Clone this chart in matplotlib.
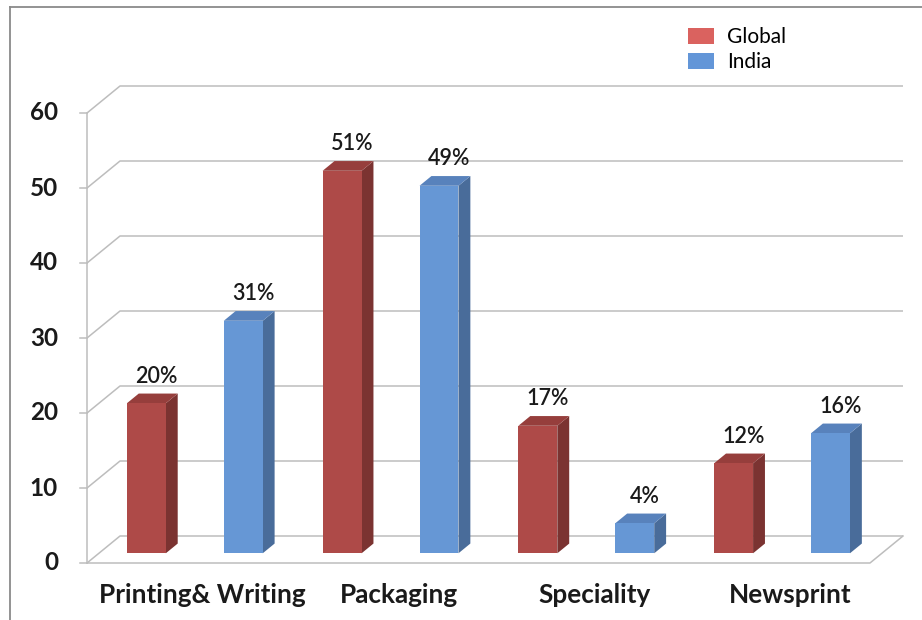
import matplotlib
matplotlib.use("Agg")
import matplotlib.pyplot as plt
from matplotlib.patches import Polygon, Patch
from matplotlib.lines import Line2D

# ---------------- data ----------------
categories = ["Printing& Writing", "Packaging", "Speciality", "Newsprint"]
series_names = ["Global", "India"]
global_vals = [20, 51, 17, 12]
india_vals = [31, 49, 4, 16]
value_labels_global = ["20%", "51%", "17%", "12%"]
value_labels_india = ["31%", "49%", "4%", "16%"]
yticks = [0, 10, 20, 30, 40, 50, 60]

# ---------------- style ----------------
FONT = ["Lato", "DejaVu Sans"]
plt.rcParams["font.family"] = FONT

front_cols = ["#AE4A48", "#6697D5"]
side_cols = ["#7B3331", "#496C9A"]
top_cols = ["#963E3C", "#5882BC"]
legend_cols = ["#DA625F", "#6396D8"]
grid_col = "#BDBDBD"
text_col = "#1a1a1a"

W, H = 922, 620
fig = plt.figure(figsize=(W / 100, H / 100), dpi=100)

# axes: x in category units (0..4 + depth), y in value units (0..60 + depth)
n = len(categories)
ymax = yticks[-1]
DX = 0.1686          # depth offset of back wall, in category units
DY = 3.6             # depth offset of back wall, in value units
ax = fig.add_axes([87 / W, 57 / H, 816 / W, 477 / H])
ax.set_xlim(0, n + DX)
ax.set_ylim(0, ymax + DY)
ax.axis("off")

lw = 1.1
# back wall gridlines + left wall diagonals
for t in yticks:
    ax.plot([0, DX, n + DX], [t, t + DY, t + DY], color=grid_col, lw=lw,
            clip_on=False, zorder=1, solid_capstyle="butt")
    # tick marks
    ax.plot([-0.036, 0], [t, t], color=grid_col, lw=lw, clip_on=False, zorder=1)
    ax.annotate(str(t), xy=(0, t), xytext=(-29, 0), textcoords="offset pixels",
                ha="right", va="center", fontsize=17.5, fontweight="bold",
                color=text_col, annotation_clip=False)
# left wall front edge
ax.plot([0, 0], [0, ymax], color=grid_col, lw=lw, clip_on=False, zorder=1)
# floor
ax.plot([0, n, n + DX], [0, 0, DY], color=grid_col, lw=lw, clip_on=False, zorder=1)

# bars
f1, dd = 0.36, 0.36
offsets = [0.143, 0.638]
bw = 0.199
for s, (vals, labs) in enumerate([(global_vals, value_labels_global),
                                  (india_vals, value_labels_india)]):
    for i, v in enumerate(vals):
        x0 = i + offsets[s] + f1 * DX
        y0 = f1 * DY
        ddx, ddy = dd * DX, dd * DY
        front = Polygon([(x0, y0), (x0 + bw, y0), (x0 + bw, y0 + v), (x0, y0 + v)],
                        closed=True, facecolor=front_cols[s], edgecolor="none", zorder=3)
        side = Polygon([(x0 + bw, y0), (x0 + bw + ddx, y0 + ddy),
                        (x0 + bw + ddx, y0 + v + ddy), (x0 + bw, y0 + v)],
                       closed=True, facecolor=side_cols[s], edgecolor="none", zorder=3)
        top = Polygon([(x0, y0 + v), (x0 + bw, y0 + v),
                       (x0 + bw + ddx, y0 + v + ddy), (x0 + ddx, y0 + v + ddy)],
                      closed=True, facecolor=top_cols[s], edgecolor="none", zorder=3)
        for p in (side, top, front):
            ax.add_patch(p)
        ax.annotate(labs[i], xy=(x0 + (bw + ddx) / 2, y0 + v + ddy),
                    xytext=(4, 11), textcoords="offset pixels",
                    ha="center", va="baseline", fontsize=15.5, fontweight="semibold",
                    color=text_col, annotation_clip=False, zorder=4)

# category labels
for i, c in enumerate(categories):
    ax.annotate(c, xy=(i + 0.5 + (f1 + dd / 2) * DX, 0), xytext=(0, -32),
                textcoords="offset pixels", ha="center", va="center",
                fontsize=18.8, fontweight="bold", color=text_col,
                annotation_clip=False)

# legend
handles = [Patch(facecolor=legend_cols[k], edgecolor="none") for k in range(2)]
fig.legend(handles, series_names, loc="upper left",
           bbox_to_anchor=(688 / W, 1 - 27 / H), frameon=False, fontsize=15,
           borderaxespad=0, borderpad=0,
           handlelength=1.25, handleheight=0.77, labelspacing=0.25,
           handletextpad=0.62)

# outer frame lines
fig.add_artist(Line2D([10 / W, 10 / W], [0, 1 - 7 / H], color="#8a8a8a", lw=1.3,
                      transform=fig.transFigure))
fig.add_artist(Line2D([10 / W, 1], [1 - 7 / H, 1 - 7 / H], color="#8a8a8a", lw=1.3,
                      transform=fig.transFigure))

fig.savefig("out.png", dpi=100)
